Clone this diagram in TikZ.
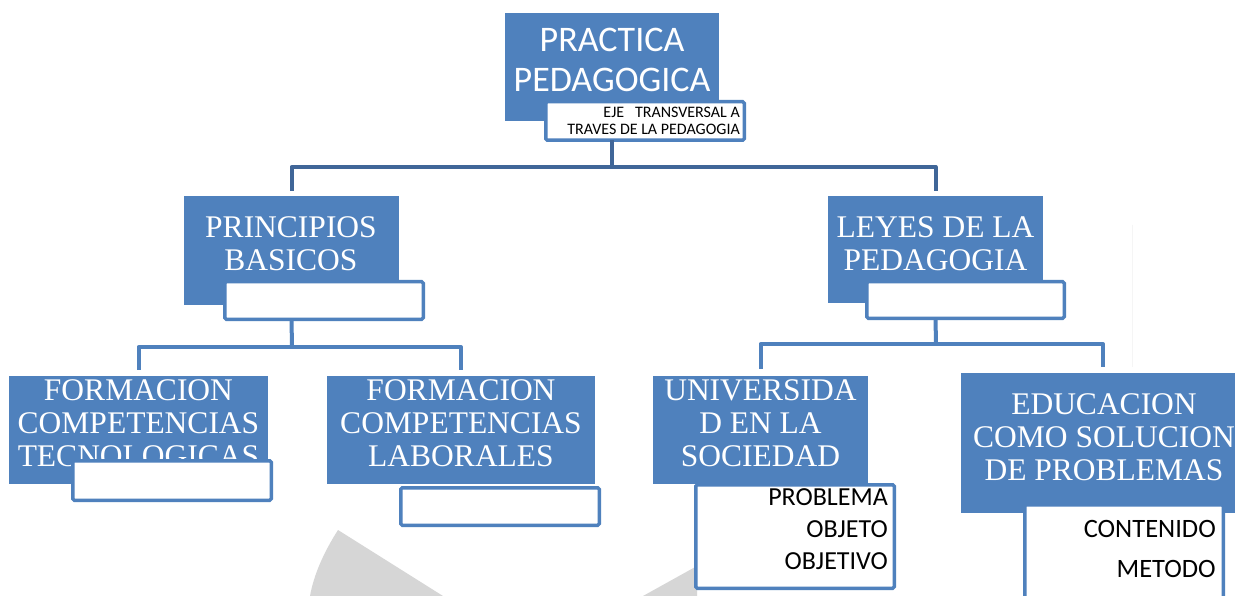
\documentclass[tikz,border=0pt]{standalone}
\usepackage{fontspec}
\newfontfamily\carl{Carlito}
\newfontfamily\tms{Liberation Serif}
\usetikzlibrary{calc}
\definecolor{boxblue}{RGB}{79,129,189}
\definecolor{linkdark}{RGB}{64,102,152}
\definecolor{wmgray}{RGB}{214,214,214}
\tikzset{
  bluebox/.style={fill=boxblue, draw=none, inner sep=0pt, outer sep=0pt, anchor=north west},
  whitebox/.style={fill=white, draw=boxblue, line width=3.5pt, rounded corners=1.5pt, inner sep=0pt, outer sep=0pt, anchor=north west},
  titlesans/.style={text=white, font=\carl\fontsize{36}{40}\selectfont, align=center, inner sep=0pt, anchor=north},
  titleserif/.style={text=white, font=\tms\fontsize{31.5}{33}\selectfont, align=center, inner sep=0pt, anchor=north},
  smalltext/.style={text=black, font=\carl\fontsize{16}{17}\selectfont, align=right, inner sep=0pt, anchor=north east},
  boxtext/.style={text=black, font=\carl\fontsize{26}{32}\selectfont, align=right, inner sep=0pt, anchor=north east},
  toplink/.style={draw=linkdark, line width=4pt, line join=round},
  sublink/.style={draw=boxblue, line width=4pt, line join=round}
}
\begin{document}
\begin{tikzpicture}[x=1pt,y=-1pt]
\clip (0,0) rectangle (1235,596);
\fill[white] (0,0) rectangle (1235,596);
% watermark shapes
\fill[wmgray] (338,530) .. controls (324,552) and (314,574) .. (310,596) -- (443,596) -- cycle;
\fill[wmgray] (643,596) -- (697,566) -- (697,596) -- cycle;
\draw[gray!8, line width=1pt] (1132,225) -- (1132,367);

% blue boxes
\node[bluebox, minimum width=214pt, minimum height=108pt] (pp) at (505,13) {};
\node[bluebox, minimum width=215pt, minimum height=109pt] (pb) at (184,196) {};
\node[bluebox, minimum width=215pt, minimum height=107pt] (ly) at (828,196) {};
\node[bluebox, minimum width=259pt, minimum height=108pt] (ft) at (9,376) {};
\node[bluebox, minimum width=268pt, minimum height=108pt] (fl) at (327,376) {};
\node[bluebox, minimum width=215pt, minimum height=108pt] (us) at (653,376) {};
\node[bluebox, minimum width=284pt, minimum height=140pt] (ed) at (961,373) {};

% titles
\node[titlesans] (ppt) at (612,27.5) {PRACTICA\\PEDAGOGICA};
\node[titleserif] (pbt) at (291,216.5) {PRINCIPIOS\\BASICOS};
\node[titleserif] (lyt) at (935.5,216.5) {LEYES DE LA\\PEDAGOGIA};
\node[titleserif] (ftt) at (138.5,379) {FORMACION\\COMPETENCIAS\\TECNOLOGICAS};
\node[titleserif] (flt) at (461,379) {FORMACION\\COMPETENCIAS\\LABORALES};
\node[titleserif] (ust) at (760.5,379.5) {UNIVERSIDA\\D EN LA\\SOCIEDAD};
\node[titleserif] (edt) at (1104,393.5) {EDUCACION\\COMO SOLUCION\\DE PROBLEMAS};

% white boxes
\node[whitebox, minimum width=198.5pt, minimum height=38.5pt] (eje) at (545.75,101.75) {};
\node[whitebox, minimum width=198.5pt, minimum height=37.5pt] (pbw) at (224.75,281.75) {};
\node[whitebox, minimum width=197.5pt, minimum height=36.5pt] (lyw) at (866.75,281.75) {};
\node[whitebox, minimum width=198.5pt, minimum height=39.5pt] (ftw) at (72.75,460.75) {};
\node[whitebox, minimum width=198.5pt, minimum height=37.5pt] (flw) at (400.75,487.75) {};
\node[whitebox, minimum width=198.5pt, minimum height=103.5pt] (usw) at (695.75,484.75) {};
\node[whitebox, minimum width=198.5pt, minimum height=120pt] (edw) at (1024.75,504.75) {};

% texts in white boxes
\node[smalltext] (ejet) at (740,107.4) {EJE\ \ \ TRANSVERSAL A\\TRAVES DE LA PEDAGOGIA};
\node[boxtext] (uswt) at (888,488) {PROBLEMA\\OBJETO\\OBJETIVO};
\node[boxtext, font=\carl\fontsize{26.5}{40}\selectfont] (edwt) at (1216,520) {CONTENIDO\\METODO};

% connectors
\coordinate (h1) at (612,167);
\draw[toplink] (pp.south |- eje.south) -- (h1);
\draw[toplink, shorten >=5pt] (h1) -| (pb.north);
\draw[toplink, shorten >=5pt] (h1) -| (ly.north);

\coordinate (h2) at (292,347);
\draw[sublink] (pb.south |- pbw.south) -- (h2);
\draw[sublink, shorten >=6pt] (h2) -| (ft.north);
\draw[sublink, shorten >=6pt] (h2) -| (fl.north);

\coordinate (h3) at (936,344);
\draw[sublink] (ly.south |- lyw.south) -- (h3);
\draw[sublink, shorten >=7pt] (h3) -| (us.north);
\draw[sublink, shorten >=6pt] (h3) -| (ed.north);
\end{tikzpicture}
\end{document}
